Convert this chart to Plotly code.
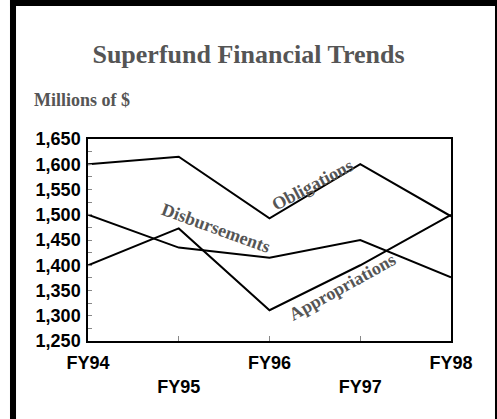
import plotly.graph_objects as go

years = ["FY94", "FY95", "FY96", "FY97", "FY98"]
obligations = [1600, 1615, 1493, 1600, 1497]
disbursements = [1500, 1435, 1415, 1450, 1376]
appropriations = [1400, 1473, 1311, 1400, 1500]
y_ticks = [1250, 1300, 1350, 1400, 1450, 1500, 1550, 1600, 1650]

x_idx = list(range(len(years)))
tick_text = [y if i % 2 == 0 else "<br>" + y for i, y in enumerate(years)]

fig = go.Figure()
for vals, name in [(obligations, "Obligations"), (disbursements, "Disbursements"),
                   (appropriations, "Appropriations")]:
    fig.add_trace(go.Scatter(x=x_idx, y=vals, mode="lines", name=name,
                             line=dict(color="black", width=2), showlegend=False))

label_font = dict(family="Liberation Serif, Times New Roman, serif", size=18,
                  color="#555555", weight="bold")
fig.add_annotation(x=2.47, y=1559, text="Obligations", textangle=-28, showarrow=False,
                   font=label_font, xanchor="center", yanchor="middle")
fig.add_annotation(x=1.41, y=1474, text="Disbursements", textangle=20, showarrow=False,
                   font=label_font, xanchor="center", yanchor="middle")
fig.add_annotation(x=2.80, y=1357, text="Appropriations", textangle=-29, showarrow=False,
                   font=label_font, xanchor="center", yanchor="middle")

fig.add_annotation(xref="paper", yref="paper", x=-0.154, y=1.193, text="Millions of $",
                   showarrow=False, xanchor="left", yanchor="middle",
                   font=dict(family="Liberation Serif, Times New Roman, serif", size=18,
                             color="#555555", weight="bold"))

# frame
for x0, x1, y0, y1 in [(-0.2149, -0.1983, -0.40, 1.70),
                       (-0.2149, 1.1300, 1.658, 1.70),
                       (1.1212, 1.1300, -0.40, 1.70)]:
    fig.add_shape(type="rect", xref="paper", yref="paper", x0=x0, x1=x1, y0=y0, y1=y1,
                  fillcolor="black", line=dict(width=0), layer="above")

tickfont = dict(family="Liberation Sans, Arial, sans-serif", size=18, color="black",
                weight="bold")
fig.update_layout(
    width=497, height=419,
    margin=dict(l=88, r=46, t=139, b=78),
    paper_bgcolor="white", plot_bgcolor="white",
    title=dict(text="Superfund Financial Trends", x=0.5, xref="container",
               y=1 - 54 / 419, yref="container", xanchor="center", yanchor="middle",
               font=dict(family="Liberation Serif, Times New Roman, serif", size=26,
                         color="#555555", weight="bold")),
    xaxis=dict(range=[0, 4], tickvals=x_idx, ticktext=tick_text, tickfont=tickfont,
               ticks="inside", ticklen=5, tickcolor="#888888", tickwidth=1,
               showline=True, linecolor="black", linewidth=1.5, mirror=True,
               showgrid=False, zeroline=False, ticklabelstandoff=5),
    yaxis=dict(range=[1250, 1650], tickvals=y_ticks, tickformat=",d", tickfont=tickfont,
               ticks="inside", ticklen=4, tickcolor="#888888", tickwidth=1,
               minor=dict(dtick=25, ticks="inside", ticklen=4, tickcolor="#888888"),
               showline=True, linecolor="black", linewidth=1.5, mirror=True,
               showgrid=False, zeroline=False, ticklabelstandoff=2),
)

fig.write_html("out.html", config={"displayModeBar": False},
               post_script="document.body.style.margin='0';")
